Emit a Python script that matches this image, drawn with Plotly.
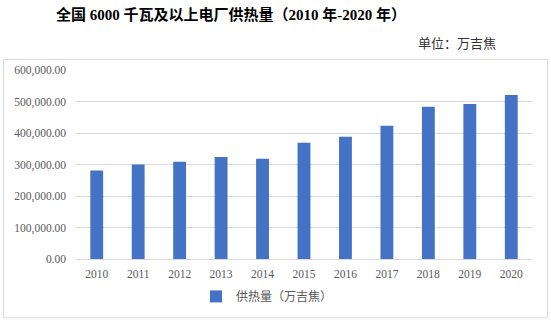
import plotly.graph_objects as go

years = ["2010", "2011", "2012", "2013", "2014", "2015", "2016", "2017", "2018", "2019", "2020"]
heat_supply = [281000, 300000, 309000, 324000, 318000, 369000, 388000, 423000, 483000, 492000, 521000]
y_ticks = [0, 100000, 200000, 300000, 400000, 500000, 600000]
y_tick_labels = ["0.00", "100,000.00", "200,000.00", "300,000.00", "400,000.00", "500,000.00", "600,000.00"]

W, H = 551, 324
L, R, T, B = 76, 19, 70, 64.5
pw, ph = W - L - R, H - T - B

def px(x):
    return (x - L) / pw

def py(y):
    return (H - B - y) / ph

serif = "Liberation Serif, Times New Roman, serif"

fig = go.Figure()
fig.add_trace(go.Bar(
    x=years, y=heat_supply, name="供热量（万吉焦）",
    marker=dict(color="#4472C4", line=dict(width=0)),
    width=0.31,
))

fig.update_layout(
    width=W, height=H,
    margin=dict(l=L, r=R, t=T, b=B),
    paper_bgcolor="white", plot_bgcolor="white",
    bargap=0.69,
    font=dict(family=serif, color="#595959", size=11),
    xaxis=dict(type="category", showgrid=False, showline=True, linecolor="#D9D9D9", linewidth=1,
               ticks="", tickfont=dict(family=serif, size=11.5, color="#595959"), ticklabelstandoff=4),
    yaxis=dict(range=[0, 600000], tickvals=y_ticks, ticktext=y_tick_labels,
               showgrid=True, gridcolor="#D9D9D9", gridwidth=1, zeroline=False, showline=False,
               ticks="", tickfont=dict(family=serif, size=11.5, color="#595959"), ticklabelstandoff=9),
    showlegend=True,
    legend=dict(orientation="h", x=px(196), xanchor="left", y=py(297), yanchor="middle",
                font=dict(family="Noto Sans CJK SC", size=12, color="#595959"),
                itemwidth=30, entrywidth=170, bgcolor="rgba(0,0,0,0)"),
    shapes=[dict(type="rect", xref="paper", yref="paper",
                 x0=px(3.5), x1=px(547.5), y0=py(318.5), y1=py(59.5),
                 line=dict(color="#D9D9D9", width=1), fillcolor="rgba(0,0,0,0)", layer="below")],
    annotations=[
        dict(text="<b>全国 6000 千瓦及以上电厂供热量（2010 年-2020 年）</b>", xref="paper", yref="paper",
             x=px(231), y=py(14), xanchor="center", yanchor="middle", showarrow=False,
             font=dict(family=serif + ", Noto Sans CJK SC", size=15, color="black")),
        dict(text="单位：万吉焦", xref="paper", yref="paper",
             x=px(498), y=py(42), xanchor="right", yanchor="middle", showarrow=False,
             font=dict(family="Noto Sans CJK SC", size=13, color="#333333")),
    ],
)

fig.write_html("out.html")
